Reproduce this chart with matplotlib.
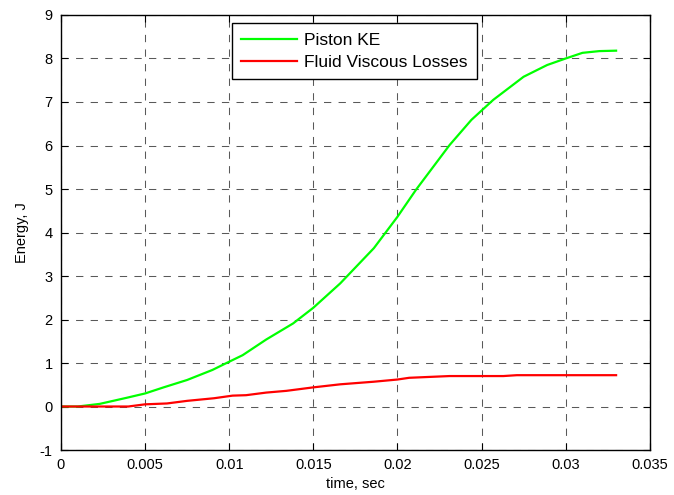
import numpy as np
import matplotlib
matplotlib.use("Agg")
import matplotlib.pyplot as plt

plt.rcParams["font.family"] = ["Liberation Sans", "DejaVu Sans"]
plt.rcParams["axes.unicode_minus"] = False

# Piston kinetic energy
t_ke = [0.0, 0.001, 0.0023, 0.0031, 0.0039, 0.005, 0.0061, 0.0075, 0.009, 0.0100,
        0.0108, 0.0122, 0.0138, 0.0150, 0.0166, 0.0186, 0.0200, 0.0211, 0.0231,
        0.0244, 0.0257, 0.0275, 0.0289, 0.0300, 0.0310, 0.0320, 0.0330]
e_ke = [0.0, 0.0, 0.06, 0.13, 0.20, 0.30, 0.44, 0.61, 0.84, 1.03,
        1.18, 1.54, 1.91, 2.27, 2.83, 3.64, 4.36, 4.98, 6.01,
        6.59, 7.05, 7.58, 7.85, 8.00, 8.13, 8.17, 8.18]

# Fluid viscous losses
t_visc = [0.0, 0.004, 0.005, 0.0063, 0.0075, 0.0091, 0.0102, 0.0110, 0.0122, 0.0134,
          0.0150, 0.0166, 0.0186, 0.0200, 0.0207, 0.0231, 0.0263, 0.0271, 0.0330]
e_visc = [0.0, 0.0, 0.05, 0.07, 0.13, 0.19, 0.25, 0.26, 0.32, 0.36,
          0.44, 0.51, 0.57, 0.62, 0.66, 0.70, 0.70, 0.72, 0.72]

fig = plt.figure(figsize=(6.74, 4.95), dpi=100)
ax = fig.add_axes([0.0905, 0.0909, 0.8735, 0.8788])

ax.plot(t_ke, e_ke, color=(0, 1, 0), lw=1.6, label="Piston KE")
ax.plot(t_visc, e_visc, color=(1, 0, 0), lw=1.6, label="Fluid Viscous Losses")

ax.set_xlim(0, 0.035)
ax.set_ylim(-1, 9)
ax.set_xticks(np.arange(0, 0.0351, 0.005))
ax.set_xticklabels(["0", "0.005", "0.01", "0.015", "0.02", "0.025", "0.03", "0.035"])
ax.set_yticks(range(-1, 10))
ax.tick_params(direction="in", top=True, right=True, length=5, labelsize=10.5, pad=6)
ax.grid(True, color=(0.35, 0.35, 0.35), linestyle=(0, (7, 7)), lw=0.75)
for s in ax.spines.values():
    s.set_linewidth(1.0)

ax.set_xlabel("time, sec", fontsize=10.5, labelpad=3)
ax.set_ylabel("Energy, J", fontsize=10.5, labelpad=8)

leg = ax.legend(loc="upper left", bbox_to_anchor=(0.290, 0.981), fontsize=12.5,
                fancybox=False, framealpha=1, edgecolor="black", borderaxespad=0,
                handlelength=3.2, handletextpad=0.4, borderpad=0.55, labelspacing=0.38)
leg.get_frame().set_linewidth(1.0)

fig.savefig("out.png", dpi=100)
